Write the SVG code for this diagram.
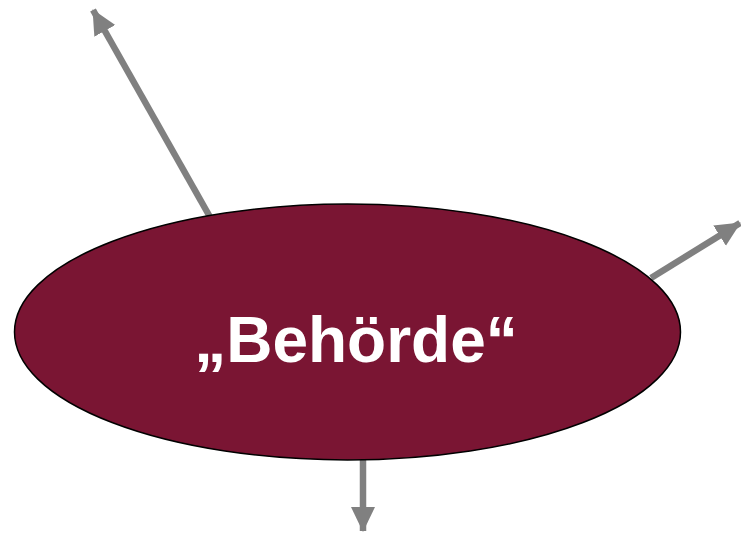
<svg xmlns="http://www.w3.org/2000/svg" width="741" height="533" viewBox="0 0 741 533">
  <style>
    .conn { stroke: #808080; stroke-width: 6.5; fill: none; }
    .label { font-family: "Liberation Sans", Arial, sans-serif; font-weight: bold; fill: #ffffff; }
  </style>
  <defs>
    <marker id="arrow" markerUnits="userSpaceOnUse" markerWidth="26" markerHeight="26" viewBox="0 0 26 26" refX="24" refY="13" orient="auto">
      <path d="M0,1 L25,13 L0,25 Z" fill="#808080"/>
    </marker>
  </defs>
  <rect width="741" height="533" fill="#ffffff"/>
  <g id="connectors">
    <line class="conn" x1="210" y1="217" x2="93" y2="10" marker-end="url(#arrow)"/>
    <line class="conn" x1="651" y1="278" x2="740" y2="223" marker-end="url(#arrow)"/>
    <line class="conn" x1="363" y1="458" x2="363" y2="531" marker-end="url(#arrow)"/>
  </g>
  <g id="behoerde">
    <ellipse cx="347.5" cy="332" rx="333" ry="128" fill="#7a1533" stroke="#000000" stroke-width="1.5"/>
    <text class="label" x="356" y="362" font-size="64" text-anchor="middle">„Behörde“</text>
  </g>
</svg>
